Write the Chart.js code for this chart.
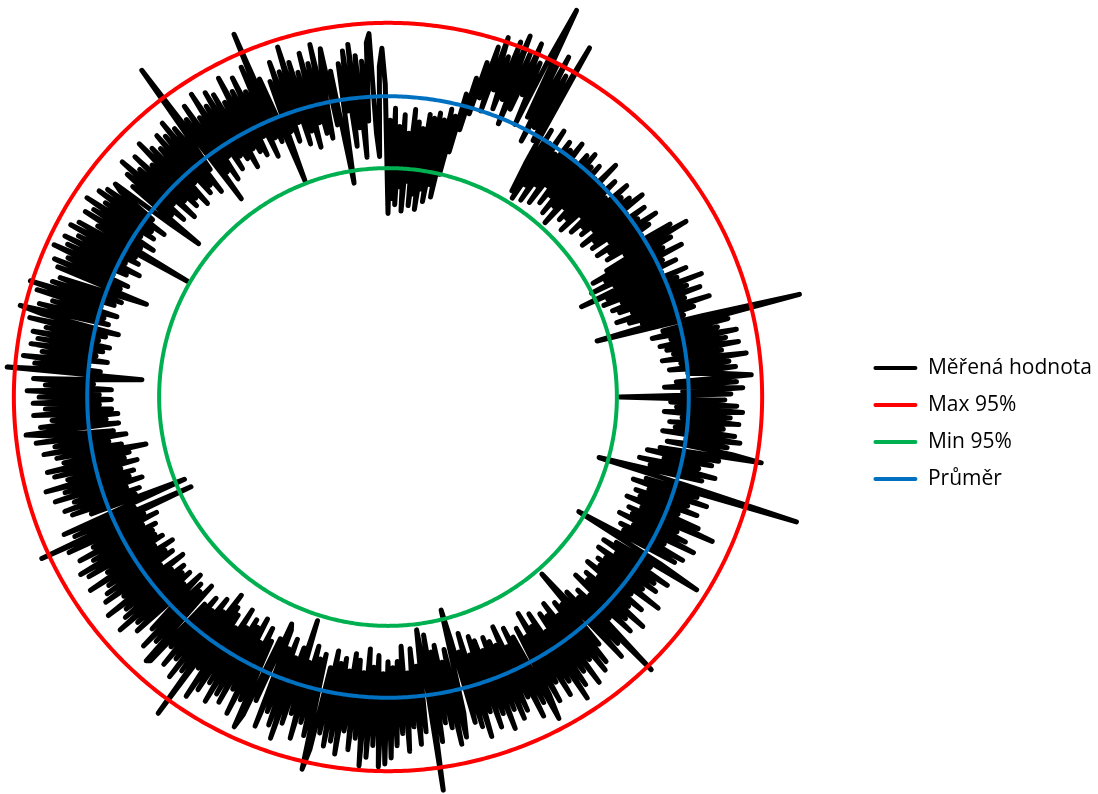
<!DOCTYPE html>
<html lang="cs">
<head>
  <meta charset="UTF-8">
  <title>Měřená hodnota</title>
  <script src="https://cdn.jsdelivr.net/npm/chart.js"></script>
  <style>
    html, body {
      margin: 0;
      padding: 0;
      background: #fff;
      overflow: hidden;
    }
    /* canvas is wider than the window and shifted left, so the ring sits left of centre */
    #radarChart {
      display: block;
      margin-left: -81px;
    }
  </style>
</head>
<body>
  <canvas id="radarChart" width="1183" height="794"></canvas>

  <script>
    // measured values, two per degree, clockwise from the top
    const measured = [
      61, 92, 66, 96, 64, 90, 70, 94, 62, 88, 72, 96, 64, 92, 68, 90, 63, 95, 70, 94,
      66, 96, 72, 94, 68, 98, 76, 96, 84, 104, 92, 110, 98, 116, 104, 122, 100, 126, 108, 120,
      102, 126, 106, 129, 98, 124, 104, 128, 110, 122, 100, 126, 143, 104, 124, 96, 128, 102, 122, 98,
      134, 90, 80, 104, 78, 100, 84, 106, 79, 98, 86, 104, 80, 102, 88, 106, 82, 100, 86, 104,
      80, 106, 84, 102, 78, 104, 86, 100, 82, 108, 84, 100, 80, 104, 88, 98, 82, 106, 86, 102,
      84, 104, 88, 108, 82, 100, 86, 106, 84, 102, 90, 108, 84, 104, 88, 100, 86, 110, 92, 115,
      84, 108, 78, 104, 82, 110, 76, 102, 84, 106, 71, 100, 80, 108, 78, 104, 84, 112, 80, 106,
      82, 110, 86, 104, 80, 112, 84, 106, 88, 102, 72, 108, 141, 94, 116, 90, 112, 96, 118, 92,
      114, 94, 118, 96, 112, 92, 120, 98, 114, 94, 116, 100, 112, 121, 96, 116, 92, 118, 98, 114,
      77, 112, 94, 116, 96, 118, 92, 114, 98, 117, 94, 112, 96, 116, 92, 118, 100, 114, 94, 116,
      126, 92, 112, 88, 110, 94, 106, 86, 112, 90, 108, 88, 73, 104, 142, 90, 108, 86, 112, 92,
      106, 88, 110, 90, 104, 86, 112, 92, 118, 88, 106, 90, 110, 86, 114, 92, 104, 88, 112, 90,
      110, 88, 74, 106, 121, 90, 104, 86, 112, 92, 108, 86, 110, 90, 106, 88, 114, 90, 104, 86,
      110, 92, 106, 88, 114, 90, 108, 86, 112, 94, 104, 90, 126, 92, 112, 88, 116, 94, 78, 108,
      90, 114, 88, 116, 92, 110, 86, 118, 90, 112, 88, 116, 94, 120, 86, 112, 90, 116, 84, 110,
      92, 116, 88, 112, 121, 90, 114, 86, 118, 92, 110, 84, 114, 90, 116, 88, 112, 86, 118, 90,
      112, 86, 116, 84, 110, 90, 118, 82, 114, 88, 112, 84, 73, 108, 116, 86, 118, 90, 112, 84,
      110, 86, 116, 80, 132, 88, 78, 112, 90, 116, 84, 110, 92, 118, 83, 112, 88, 116, 90, 120,
      88, 122, 92, 123, 86, 116, 90, 120, 84, 123, 92, 114, 88, 118, 86, 112, 92, 120, 88, 116,
      90, 118, 86, 114, 92, 120, 127, 88, 116, 90, 112, 86, 118, 92, 110, 78, 114, 88, 120, 92,
      116, 86, 112, 90, 118, 84, 82, 110, 88, 116, 121, 90, 112, 86, 118, 92, 110, 84, 116, 88,
      114, 86, 118, 90, 112, 84, 116, 92, 120, 88, 110, 86, 130, 82, 114, 90, 118, 86, 112, 92,
      116, 88, 110, 92, 118, 119, 86, 112, 90, 116, 88, 110, 96, 86, 114, 92, 112, 88, 118, 90,
      114, 88, 112, 92, 118, 86, 110, 94, 116, 88, 114, 90, 112, 86, 118, 92, 110, 88, 116, 90,
      118, 90, 112, 88, 116, 92, 110, 86, 118, 90, 127, 72, 114, 92, 117, 88, 73, 106, 90, 112,
      88, 114, 92, 110, 86, 116, 90, 112, 88, 118, 92, 110, 86, 114, 90, 116, 88, 110, 82, 112,
      90, 116, 94, 112, 88, 118, 92, 114, 121, 90, 116, 94, 112, 90, 118, 92, 114, 96, 118, 92,
      116, 96, 120, 92, 114, 98, 118, 94, 82, 127, 96, 118, 100, 122, 94, 116, 98, 120, 96, 118,
      94, 120, 98, 116, 96, 122, 92, 118, 126, 96, 120, 98, 116, 94, 122, 100, 125, 96, 118, 94,
      116, 98, 86, 118, 96, 120, 94, 116, 100, 122, 96, 118, 92, 120, 98, 116, 94, 120, 96, 118,
      77, 112, 96, 118, 92, 116, 98, 120, 94, 114, 96, 118, 92, 116, 98, 112, 115, 92, 81, 110,
      94, 114, 90, 118, 96, 112, 88, 116, 94, 110, 90, 118, 92, 114, 88, 112, 96, 116, 90, 114,
      92, 118, 88, 114, 96, 110, 136, 82, 114, 92, 118, 88, 112, 96, 120, 90, 114, 94, 118, 92,
      116, 88, 112, 94, 120, 92, 114, 90, 118, 96, 112, 88, 120, 94, 131, 92, 114, 96, 77, 112,
      94, 118, 90, 114, 96, 122, 88, 116, 92, 112, 86, 118, 94, 114, 90, 120, 88, 112, 118, 92,
      110, 86, 72, 112, 96, 116, 84, 118, 90, 114, 80, 112, 92, 118, 121, 88, 80, 110, 116, 104
    ];
    const steps = measured.map((v, i) => i + 1);

    const max95 = 124.4;
    const min95 = 76.1;
    const average = 100;

    const seriesNames = ['Měřená hodnota', 'Max 95%', 'Min 95%', 'Průměr'];
    const seriesColors = ['#000000', '#FF0000', '#00B050', '#0070C0'];

    const flat = value => steps.map(() => value);

    const ctx = document.getElementById('radarChart').getContext('2d');
    Chart.defaults.font.family = "'Open Sans', sans-serif";

    new Chart(ctx, {
      type: 'radar',
      data: {
        labels: steps,
        datasets: [
          {
            label: seriesNames[0],
            data: measured,
            borderColor: seriesColors[0],
            backgroundColor: seriesColors[0],
            borderWidth: 5,
            borderJoinStyle: 'round',
            borderCapStyle: 'round',
            order: 4
          },
          {
            label: seriesNames[1],
            data: flat(max95),
            borderColor: seriesColors[1],
            backgroundColor: seriesColors[1],
            borderWidth: 4,
            order: 3
          },
          {
            label: seriesNames[2],
            data: flat(min95),
            borderColor: seriesColors[2],
            backgroundColor: seriesColors[2],
            borderWidth: 4,
            order: 2
          },
          {
            label: seriesNames[3],
            data: flat(average),
            borderColor: seriesColors[3],
            backgroundColor: seriesColors[3],
            borderWidth: 4,
            order: 1
          }
        ]
      },
      options: {
        responsive: false,
        animation: false,
        layout: { padding: 0 },
        elements: {
          line: { fill: false, tension: 0 },
          point: { radius: 0, hoverRadius: 0 }
        },
        datasets: {
          radar: { clip: false }
        },
        scales: {
          r: {
            min: 0,
            max: 132,
            grid: { display: false },
            angleLines: { display: false },
            ticks: { display: false },
            pointLabels: { display: false }
          }
        },
        plugins: {
          tooltip: { enabled: false },
          legend: {
            position: 'right',
            title: {
              display: true,
              text: '',
              font: { size: 10 },
              padding: { top: 0, bottom: 41 }
            },
            labels: {
              color: '#000',
              font: { size: 21 },
              boxWidth: 44,
              boxHeight: 4,
              padding: 16,
              useBorderRadius: true,
              borderRadius: 2,
              sort: (a, b) => a.datasetIndex - b.datasetIndex,
              generateLabels: chart =>
                Chart.defaults.plugins.legend.labels.generateLabels(chart)
                  .map(item => Object.assign(item, { lineWidth: 0 }))
            }
          }
        }
      }
    });
  </script>
</body>
</html>
